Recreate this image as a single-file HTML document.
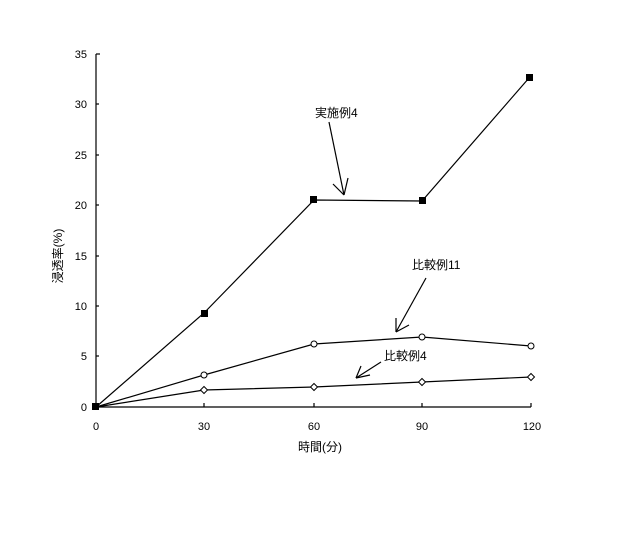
<!DOCTYPE html>
<html><head><meta charset="utf-8"><style>
html,body{margin:0;padding:0;background:#fff;}
svg text{font-family:"Liberation Sans","Noto Sans CJK JP",sans-serif;fill:#000;}
</style></head><body>
<svg width="622" height="543" viewBox="0 0 622 543" xmlns="http://www.w3.org/2000/svg">
<g stroke="#000" stroke-width="1.2" fill="none">
<line x1="96" y1="54" x2="96" y2="407"/>
<line x1="96" y1="407" x2="531" y2="407"/>
<line x1="96" y1="54" x2="100" y2="54"/>
<line x1="96" y1="104" x2="99" y2="104"/>
<line x1="96" y1="155" x2="99" y2="155"/>
<line x1="96" y1="205" x2="99" y2="205"/>
<line x1="96" y1="256" x2="99" y2="256"/>
<line x1="96" y1="306" x2="99" y2="306"/>
<line x1="96" y1="356" x2="99" y2="356"/>
<line x1="204" y1="407" x2="204" y2="403"/>
<line x1="314" y1="407" x2="314" y2="403"/>
<line x1="422" y1="407" x2="422" y2="403"/>
<line x1="531" y1="407" x2="531" y2="403"/>
<polyline points="96,407 204,313 314,200 422,201 529,78"/>
<polyline points="96,407 204,375 314,344 422,337 531,346"/>
<polyline points="96,407 204,390 314,387 422,382 531,377"/>
<line x1="329" y1="122" x2="344" y2="195"/>
<line x1="344" y1="195" x2="333" y2="184"/>
<line x1="344" y1="195" x2="348" y2="178"/>
<line x1="426" y1="278" x2="396" y2="332"/>
<line x1="396" y1="332" x2="396" y2="318"/>
<line x1="396" y1="332" x2="409" y2="325"/>
<line x1="381" y1="362" x2="356" y2="378"/>
<line x1="356" y1="378" x2="361" y2="366"/>
<line x1="356" y1="378" x2="370" y2="375"/>
</g>
<g fill="#000">
<rect x="92" y="403" width="7" height="7"/>
<rect x="201" y="310" width="7" height="7"/>
<rect x="310" y="196" width="7" height="7"/>
<rect x="419" y="197" width="7" height="7"/>
<rect x="526" y="74" width="7" height="7"/>
</g>
<g fill="#fff" stroke="#000" stroke-width="1">
<circle cx="204" cy="375" r="3"/><circle cx="314" cy="344" r="3"/><circle cx="422" cy="337" r="3"/><circle cx="531" cy="346" r="3"/>
<path d="M204 386.5 L207.5 390 L204 393.5 L200.5 390Z"/>
<path d="M314 383.5 L317.5 387 L314 390.5 L310.5 387Z"/>
<path d="M422 378.5 L425.5 382 L422 385.5 L418.5 382Z"/>
<path d="M531 373.5 L534.5 377 L531 380.5 L527.5 377Z"/>
</g>
<g font-size="11" text-anchor="end">
<text x="87" y="58">35</text><text x="87" y="108">30</text><text x="87" y="159">25</text>
<text x="87" y="209">20</text><text x="87" y="260">15</text><text x="87" y="310">10</text>
<text x="87" y="360">5</text><text x="87" y="411">0</text>
</g>
<g font-size="11" text-anchor="middle">
<text x="96" y="430">0</text><text x="204" y="430">30</text><text x="314" y="430">60</text><text x="422" y="430">90</text><text x="532" y="430">120</text>
</g>
<text x="320" y="451" font-size="12" text-anchor="middle">時間(分)</text>
<text transform="translate(62,256) rotate(-90)" font-size="12" text-anchor="middle">浸透率(%)</text>
<text x="315" y="117" font-size="12">実施例4</text>
<text x="412" y="269" font-size="12">比較例11</text>
<text x="384" y="360" font-size="12">比較例4</text>
</svg>
</body></html>
